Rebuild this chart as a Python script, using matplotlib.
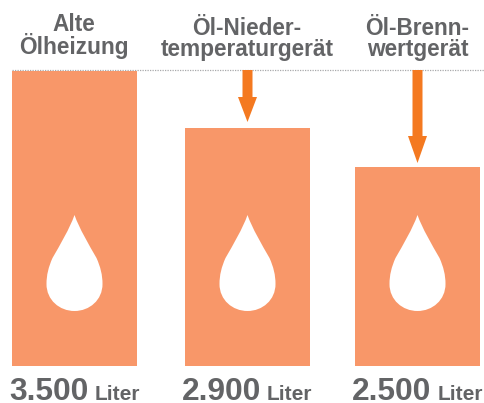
import numpy as np
import matplotlib
matplotlib.use('Agg')
import matplotlib.pyplot as plt
from matplotlib.path import Path
from matplotlib.patches import PathPatch, Polygon

categories = ['Alte\nÖlheizung', 'Öl-Nieder-\ntemperaturgerät', 'Öl-Brenn-\nwertgerät']
liters = [3500, 2900, 2500]
value_labels = ['3.500', '2.900', '2.500']
unit = 'Liter'

BAR_COLOR = '#F89769'
ARROW_COLOR = '#F47920'
TEXT_COLOR = '#636466'

W, H = 484, 403
# the bars do not start at zero, the axis is cut off
SCALE = 0.0957
TOP_PX = 71
BOTTOM_PX = 366


def px_to_value(y):
    return liters[0] - (y - TOP_PX) / SCALE


def draw_drop(ax, cx):
    # outline in pixels relative to the tip of the drop
    top = px_to_value(215)
    verts = [(0, 0),
             (5, 14), (14, 29), (22, 43),
             (26, 52), (28, 60), (28, 69),
             (28, 85), (15, 96), (0, 96),
             (-15, 96), (-28, 85), (-28, 69),
             (-28, 60), (-26, 52), (-22, 43),
             (-14, 29), (-5, 14), (0, 0),
             (0, 0)]
    codes = [Path.MOVETO] + [Path.CURVE4] * 18 + [Path.CLOSEPOLY]
    pts = [(cx + x, top - y / SCALE) for x, y in verts]
    ax.add_patch(PathPatch(Path(pts, codes), fc='white', ec='none', zorder=3))


def draw_arrow(ax, cx, start_px, neck_px, tip_px):
    shaft = 5
    head = 9.5
    pts = [(cx - shaft, start_px), (cx + shaft, start_px), (cx + shaft, neck_px),
           (cx + head, neck_px), (cx, tip_px), (cx - head, neck_px), (cx - shaft, neck_px)]
    pts = [(x, px_to_value(y)) for x, y in pts]
    ax.add_patch(Polygon(pts, closed=True, fc=ARROW_COLOR, ec='none', zorder=4))


def main():
    plt.rcParams['font.family'] = ['Liberation Sans', 'DejaVu Sans']
    fig = plt.figure(figsize=(W / 100, H / 100), dpi=100)
    ax = fig.add_axes([0, 0, 1, 1])
    ax.set_xlim(0, W)
    ax.set_ylim(px_to_value(H), px_to_value(0))
    ax.axis('off')

    centers = [74.5, 247.5, 417.5]
    base = px_to_value(BOTTOM_PX)
    ax.bar(centers, [v - base for v in liters], bottom=base, width=125, color=BAR_COLOR, zorder=2)
    ax.plot([12, W], [px_to_value(70)] * 2, color='#a8a9ab', lw=0.9, ls=(0, (1, 1)), zorder=1)

    for c in centers:
        draw_drop(ax, c)

    draw_arrow(ax, 247.5, 70, 97, 122)
    draw_arrow(ax, 417.5, 70, 136, 163)

    title_x = [74, 247, 417.5]
    title_y = [54, 56, 56]
    for x, y, name in zip(title_x, title_y, categories):
        ax.text(x, px_to_value(y), name, ha='center', va='baseline', fontsize=16.3,
                fontweight='bold', color=TEXT_COLOR, linespacing=0.88)

    num_x = [9, 182, 352]
    unit_x = [95, 267, 438]
    for x, ux, label in zip(num_x, unit_x, value_labels):
        ax.text(x, px_to_value(400.5), label, ha='left', va='baseline', fontsize=22.9,
                fontweight='bold', color=TEXT_COLOR)
        ax.text(ux, px_to_value(400.5), unit, ha='left', va='baseline', fontsize=15,
                fontweight='bold', color=TEXT_COLOR)

    fig.savefig('out.png', dpi=100)


if __name__ == '__main__':
    main()
